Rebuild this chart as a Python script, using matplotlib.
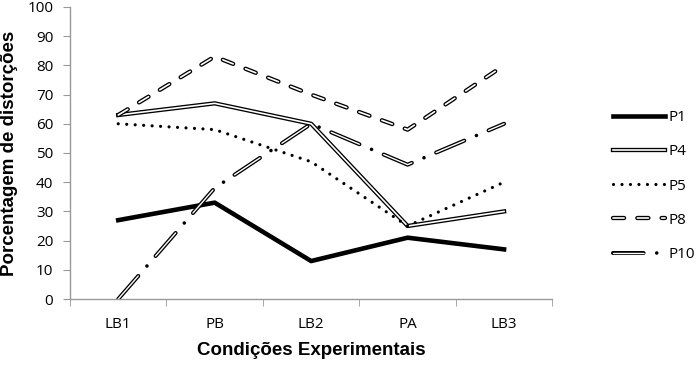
import matplotlib
matplotlib.use("Agg")
import matplotlib.pyplot as plt
import matplotlib.patheffects as pe
import numpy as np

conditions = ["LB1", "PB", "LB2", "PA", "LB3"]
p1 = [27, 33, 13, 21, 17]
p4 = [63, 67, 60, 25, 30]
p5 = [60, 58, 47, 25, 40]
p8 = [63, 83, 70, 58, 80]
p10 = [0, 38, 60, 46, 60]

plt.rcParams['font.family'] = ['Open Sans', 'DejaVu Sans']
plt.rcParams['lines.scale_dashes'] = False  # dash lengths in points

fig = plt.figure(figsize=(7, 3.66), dpi=100)
ax = fig.add_axes([0.1, 0.183, 0.689, 0.798])
x = np.arange(len(conditions))


def double(outer):
    # black outline with white core, like the excel "double line" style
    return [pe.Stroke(linewidth=outer, foreground='black'), pe.Normal()]


l1, = ax.plot(x, p1, color='black', lw=3.3)
l4, = ax.plot(x, p4, color='white', lw=1.2, path_effects=double(3.1))
l5, = ax.plot(x, p5, color='black', lw=2.3, linestyle=(0, (0.01, 6.1)),
              dash_capstyle='round')
l8, = ax.plot(x, p8, color='white', lw=1.2, linestyle=(0, (8, 9.5)),
              dash_capstyle='round', path_effects=double(3.1))
# P10: outlined long dashes plus solid black dots in the gaps
l10a, = ax.plot(x, p10, color='white', lw=1.0, linestyle=(0, (22, 19.01)),
                dash_capstyle='round', path_effects=double(2.9))
l10b, = ax.plot(x, p10, color='black', lw=2.6, linestyle=(9.51, (0.01, 41.0)),
                dash_capstyle='round')

ax.set_xlim(-0.5, 4.5)
ax.set_ylim(0, 100)
ax.set_yticks(np.arange(0, 101, 10))
ax.set_xticks(x)
ax.set_xticklabels(conditions)
ax.set_xticks(np.arange(-0.5, 5, 1), minor=True)
ax.tick_params(axis='x', which='major', length=0, pad=13, labelsize=11)
ax.tick_params(axis='x', which='minor', length=5, color='#999999')
ax.tick_params(axis='y', length=5, color='#999999', labelsize=11, pad=7)

for s in ['top', 'right']:
    ax.spines[s].set_visible(False)
for s in ['left', 'bottom']:
    ax.spines[s].set_color('#999999')
    ax.spines[s].set_linewidth(1.0)

ax.set_xlabel('Condições Experimentais', fontsize=13.5, fontweight='bold',
              family='Liberation Sans', labelpad=7)
ax.set_ylabel('Porcentagem de distorções', fontsize=13.5, fontweight='bold',
              family='Liberation Sans', labelpad=7)

fig.legend([l1, l4, l5, l8, (l10a, l10b)], ['P1', 'P4', 'P5', 'P8', 'P10'],
           loc='center left', bbox_to_anchor=(613 / 700, 1 - 186 / 366),
           frameon=False, fontsize=11, handlelength=3.4, labelspacing=1.26,
           handletextpad=0.2, borderaxespad=0, borderpad=0)

fig.savefig('out.png', dpi=100)
